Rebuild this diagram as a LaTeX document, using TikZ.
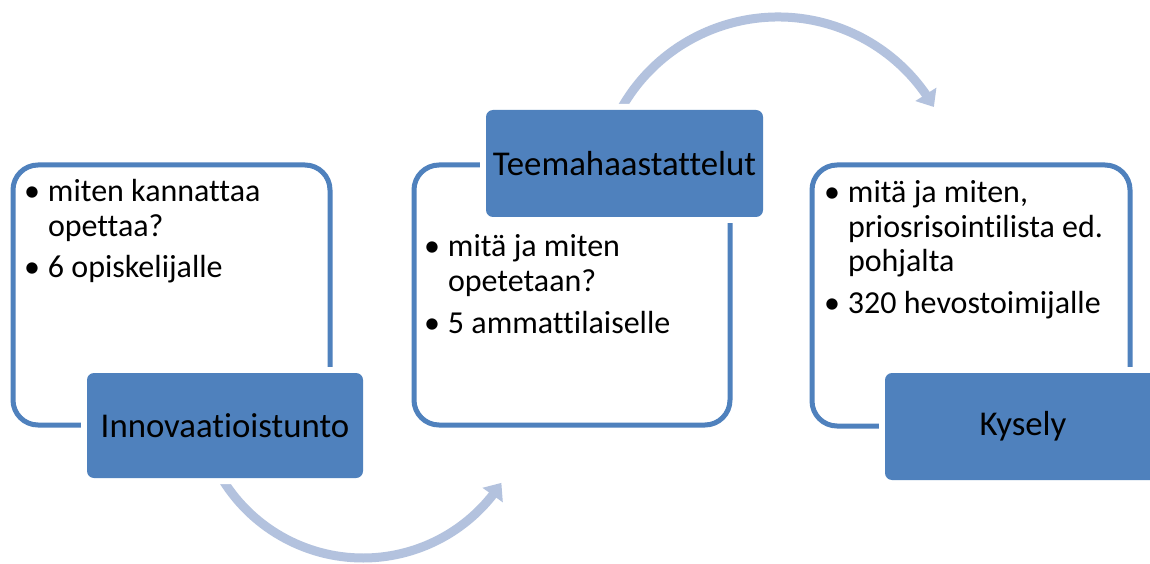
\documentclass[tikz,border=0pt]{standalone}
\usepackage{fontspec}
\setmainfont{Carlito}[Ligatures=NoCommon]
\usetikzlibrary{arrows.meta,bending}
\definecolor{accent}{HTML}{4F81BD}
\definecolor{arrowblue}{HTML}{B3C2DE}
\newcommand\bul{\makebox[24pt][l]{\makebox[16pt][c]{•}}}
\begin{document}
\begin{tikzpicture}[x=1pt,y=1pt,
  outline/.style={draw=accent,line width=5pt,rounded corners=25pt,inner sep=0pt,outer sep=0pt},
  titlebox/.style={fill=accent,rounded corners=7pt,preaction={draw=white,line width=12pt},
    inner sep=0pt,outer sep=0pt,font=\fontsize{34.8}{40}\selectfont,text=black},
  bullets/.style={anchor=base west,inner sep=0pt,outer sep=0pt,font=\fontsize{32}{34.5}\selectfont},
  flow/.style={draw=arrowblue,line width=9pt,-{Triangle[width=24pt,length=15pt,flex]}}]
\useasboundingbox (0,0) rectangle (1150,563);
\fill[white] (0,0) rectangle (1150,563);

% curved arrows
\coordinate (c1) at (363,170);
\coordinate (c2) at (778,366);
\draw[flow] ([shift={(212:165)}]c1) arc[start angle=212,end angle=327,radius=165];
\draw[flow] ([shift={(151:180)}]c2) arc[start angle=151,end angle=30,radius=180];

% outline boxes
\node[outline,minimum width=317pt,minimum height=260pt] (o1) at (171.5,268) {};
\node[outline,minimum width=316pt,minimum height=260pt] (o2) at (572,268) {};
\node[outline,minimum width=318pt,minimum height=261pt] (o3) at (971,267.5) {};

% bullet texts
\node[bullets] (t1) at (24,361) {\begin{tabular}[t]{@{}l@{}l@{}}
\bul & miten kannattaa\\
 & opettaa?\\[7pt]
\bul & 6 opiskelijalle
\end{tabular}};
\node[bullets] (t2) at (424,306) {\begin{tabular}[t]{@{}l@{}l@{}}
\bul & mitä ja miten\\
 & opetetaan?\\[7pt]
\bul & 5 ammattilaiselle
\end{tabular}};
\node[bullets] (t3) at (824,360) {\begin{tabular}[t]{@{}l@{}l@{}}
\bul & mitä ja miten,\\
 & priosrisointilista ed.\\
 & pohjalta\\[7pt]
\bul & 320 hevostoimijalle
\end{tabular}};

% title boxes
\node[titlebox,minimum width=276pt,minimum height=105pt] (b1) at (225,137.5) {Innovaatioistunto};
\node[titlebox,minimum width=277pt,minimum height=107pt] (b2) at (624.5,399.5) {Teemahaastattelut};
\node[titlebox,minimum width=276pt,minimum height=107pt] (b3) at (1023,136.5) {Kysely};
\end{tikzpicture}
\end{document}
